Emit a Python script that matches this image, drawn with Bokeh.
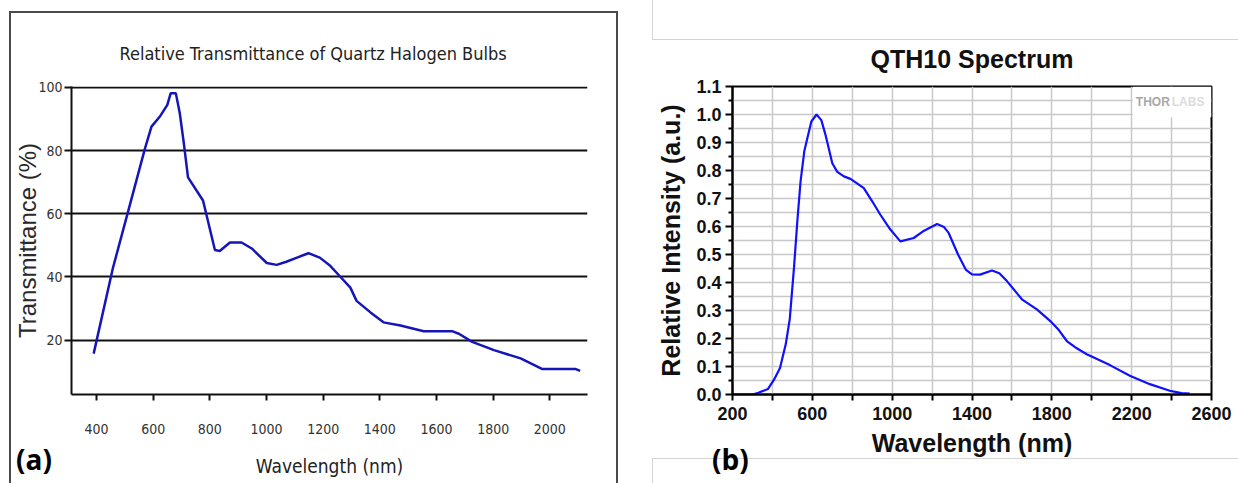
import math
from bokeh.plotting import figure
from bokeh.layouts import row
from bokeh.models import Range1d, FixedTicker, Label, PrintfTickFormatter, Div
from bokeh.embed import file_html
from bokeh.resources import INLINE

NARROW = "'DejaVu Sans Condensed', sans-serif"
SANS = "'Liberation Sans', Arial, sans-serif"

# ---------------- panel (a): Relative Transmittance of Quartz Halogen Bulbs
wl_a = [390, 458, 511, 570, 594, 623, 650, 662, 680, 694, 708, 723, 776, 818, 835,
        871, 912, 948, 1001, 1036, 1070, 1110, 1148, 1188, 1225, 1259, 1296, 1318,
        1367, 1413, 1473, 1555, 1655, 1679, 1726, 1803, 1897, 1974, 2092, 2107]
tr_a = [15.7, 42.8, 60.5, 80.3, 87.6, 90.7, 94.5, 98.2, 98.2, 91.8, 82.5, 71.5, 64.2,
        48.5, 48.2, 50.9, 50.9, 49.0, 44.4, 43.8, 44.8, 46.2, 47.5, 46.1, 43.5, 40.2,
        36.6, 32.4, 28.75, 25.6, 24.6, 22.8, 22.8, 22.0, 19.4, 16.8, 14.2, 10.8, 10.8, 10.2]
xticks_a = [400, 600, 800, 1000, 1200, 1400, 1600, 1800, 2000]
yticks_a = [20, 40, 60, 80, 100]
title_a = "Relative Transmittance of Quartz Halogen Bulbs"
xlabel_a = "Wavelength (nm)"
ylabel_a = "Transmittance (%)"
tag_a = "(a)"

# ---------------- panel (b): QTH10 Spectrum
wl_b = [200, 300, 330, 378, 408, 438, 467, 487, 508, 525, 541, 560, 575, 595, 621, 645,
        665, 700, 725, 758, 791, 824, 858, 900, 941, 990, 1041, 1108, 1160, 1225, 1260,
        1283, 1330, 1370, 1400, 1440, 1500, 1537, 1575, 1650, 1725, 1791, 1835, 1875,
        1925, 1975, 2091, 2191, 2291, 2391, 2450, 2491]
int_b = [0, 0, 0.006, 0.02, 0.053, 0.095, 0.18, 0.27, 0.452, 0.62, 0.761, 0.87, 0.915,
         0.975, 1.0, 0.98, 0.93, 0.826, 0.795, 0.779, 0.770, 0.754, 0.737, 0.69, 0.642,
         0.59, 0.547, 0.559, 0.585, 0.609, 0.598, 0.577, 0.5, 0.445, 0.429, 0.428, 0.443,
         0.433, 0.405, 0.34, 0.304, 0.263, 0.23, 0.191, 0.165, 0.144, 0.105, 0.067, 0.037,
         0.0135, 0.005, 0.003]
xticks_b = [200, 600, 1000, 1400, 1800, 2200, 2600]
xminor_b = [400, 800, 1200, 1600, 2000, 2400]
yticks_b = [0.0, 0.1, 0.2, 0.3, 0.4, 0.5, 0.6, 0.7, 0.8, 0.9, 1.0, 1.1]
yminor_b = [0.05, 0.15, 0.25, 0.35, 0.45, 0.55, 0.65, 0.75, 0.85, 0.95, 1.05]
title_b = "QTH10 Spectrum"
xlabel_b = "Wavelength (nm)"
ylabel_b = "Relative Intensity (a.u.)"
tag_b = "(b)"

# ======================= figure (a)
p1 = figure(width=624, height=483, output_backend="svg", toolbar_location=None,
            x_range=Range1d(311.8, 2133), y_range=Range1d(2.75, 100.3),
            min_border_left=71, min_border_right=37, min_border_top=86, min_border_bottom=86)
p1.outline_line_color = None
p1.background_fill_color = "white"
p1.border_fill_color = "white"

p1.title.text = title_a
p1.title.align = "left"
p1.title.offset = 48
p1.title.text_font = NARROW
p1.title.text_font_size = "18px"
p1.title.text_font_style = "normal"
p1.title.text_color = "#222222"
p1.title.standoff = 45

p1.xgrid.grid_line_color = None
p1.ygrid.ticker = FixedTicker(ticks=yticks_a)
p1.ygrid.grid_line_color = "#111111"
p1.ygrid.grid_line_width = 2

p1.xaxis.ticker = FixedTicker(ticks=xticks_a)
p1.yaxis.ticker = FixedTicker(ticks=yticks_a)
for ax in (p1.xaxis[0], p1.yaxis[0]):
    ax.axis_line_color = "#111111"
    ax.axis_line_width = 2
    ax.major_tick_line_color = "#111111"
    ax.major_tick_line_width = 2
    ax.major_tick_in = 0
    ax.minor_tick_line_color = None
    ax.major_label_text_font = NARROW
    ax.major_label_text_font_size = "14px"
    ax.major_label_text_color = "#333333"
p1.xaxis.major_tick_out = 6
p1.xaxis.major_label_standoff = 23
p1.yaxis.major_tick_out = 7
p1.yaxis.major_label_standoff = 2
p1.xaxis.axis_label = xlabel_a
p1.xaxis.axis_label_text_font = NARROW
p1.xaxis.axis_label_text_font_size = "19px"
p1.xaxis.axis_label_text_font_style = "normal"
p1.xaxis.axis_label_text_color = "#222222"
p1.xaxis.axis_label_standoff = 18
p1.yaxis.axis_label = ylabel_a
p1.yaxis.axis_label_text_font = SANS
p1.yaxis.axis_label_text_font_size = "24px"
p1.yaxis.axis_label_text_font_style = "normal"
p1.yaxis.axis_label_text_color = "#2a2a2a"
p1.yaxis.axis_label_standoff = -6

p1.line(wl_a, tr_a, line_color="#1515b8", line_width=2.5)

# ======================= figure (b)
p2 = figure(width=614, height=483, output_backend="svg", toolbar_location=None,
            x_range=Range1d(200, 2600), y_range=Range1d(0, 1.1),
            min_border_left=108, min_border_right=27, min_border_top=85, min_border_bottom=89)
p2.outline_line_color = "black"
p2.outline_line_width = 2
p2.background_fill_color = "white"
p2.border_fill_color = "white"

p2.title.text = title_b
p2.title.align = "center"
p2.title.text_font = SANS
p2.title.text_font_size = "25px"
p2.title.text_font_style = "bold"
p2.title.text_color = "#111111"
p2.title.standoff = 27

p2.xgrid.ticker = FixedTicker(ticks=sorted(xticks_b + xminor_b))
p2.ygrid.ticker = FixedTicker(ticks=sorted(yticks_b + yminor_b))
for g in (p2.xgrid[0], p2.ygrid[0]):
    g.grid_line_color = "#c8c8c8"
    g.grid_line_width = 1.5

p2.xaxis.ticker = FixedTicker(ticks=xticks_b, minor_ticks=xminor_b)
p2.yaxis.ticker = FixedTicker(ticks=yticks_b, minor_ticks=yminor_b)
p2.yaxis.formatter = PrintfTickFormatter(format="%.1f")
for ax in (p2.xaxis[0], p2.yaxis[0]):
    ax.axis_line_color = "black"
    ax.axis_line_width = 2
    ax.major_tick_line_color = "black"
    ax.major_tick_line_width = 2
    ax.minor_tick_line_color = "black"
    ax.minor_tick_line_width = 2
    ax.major_tick_in = 0
    ax.minor_tick_in = 0
    ax.major_label_text_font = SANS
    ax.major_label_text_font_style = "bold"
    ax.major_label_text_font_size = "18px"
    ax.major_label_text_color = "#111111"
    ax.axis_label_text_font = SANS
    ax.axis_label_text_font_style = "bold"
    ax.axis_label_text_font_size = "25px"
    ax.axis_label_text_color = "#111111"
p2.xaxis.major_tick_out = 6
p2.xaxis.minor_tick_out = 6
p2.xaxis.major_label_standoff = 6
p2.xaxis.axis_label = xlabel_b
p2.xaxis.axis_label_standoff = 6
p2.yaxis.major_tick_out = 7
p2.yaxis.minor_tick_out = 4
p2.yaxis.major_label_standoff = 4
p2.yaxis.axis_label = ylabel_b
p2.yaxis.axis_label_standoff = 8

# white patch behind the watermark
p2.quad(left=[2205], right=[2600], bottom=[0.99], top=[1.1], fill_color="white", line_color=None)
p2.line(wl_b, int_b, line_color="#1010ff", line_width=2.2)

p2.add_layout(Label(x=2221, y=1.043, text="THOR", text_baseline="middle",
                    text_font=SANS, text_font_style="bold", text_font_size="12px",
                    text_color="#a8a8a8"))
p2.add_layout(Label(x=2401, y=1.043, text="LABS", text_baseline="middle",
                    text_font=SANS, text_font_style="bold", text_font_size="12px",
                    text_color="#dcdcdc"))

# page decorations and panel tags (absolute overlays on the row)
TAG_STYLE = {"position": "absolute", "font-family": "'Open Sans', sans-serif",
             "font-weight": "bold", "font-size": "28px", "line-height": "34px",
             "color": "black", "pointer-events": "none"}
frame_a = Div(text="", width=609, height=480, margin=0,
              styles={"position": "absolute", "left": "9px", "top": "11px",
                      "border": "2px solid #4a4a4a", "pointer-events": "none"})
line_top = Div(text="", width=600, height=40, margin=0,
               styles={"position": "absolute", "left": "652px", "top": "0px",
                       "border-left": "1px solid #d4d4d4", "border-bottom": "1px solid #d4d4d4",
                       "pointer-events": "none"})
line_bot = Div(text="", width=600, height=40, margin=0,
               styles={"position": "absolute", "left": "652px", "top": "458px",
                       "border-left": "1px solid #d4d4d4", "border-top": "1px solid #d4d4d4",
                       "pointer-events": "none"})
div_a = Div(text=tag_a, width=50, height=34, margin=0,
            styles=dict(TAG_STYLE, left="16px", top="442px"))
div_b = Div(text=tag_b, width=50, height=34, margin=0,
            styles=dict(TAG_STYLE, left="712px", top="442px"))

layout = row(p1, p2, frame_a, line_top, line_bot, div_a, div_b)
open("out.html", "w").write(file_html(layout, INLINE))
